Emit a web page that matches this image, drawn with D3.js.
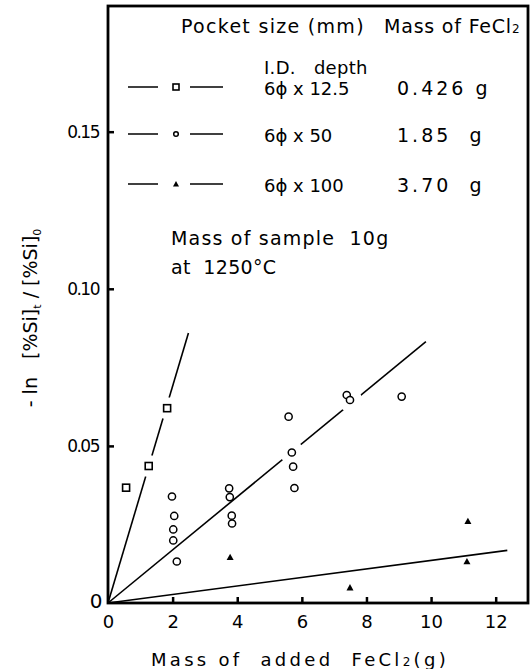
<!DOCTYPE html>
<html>
<head>
<meta charset="utf-8">
<script src="https://cdn.jsdelivr.net/npm/d3@7"></script>
<style>
  body { margin: 0; background: #fff; }
  text { font-family: "DejaVu Sans", sans-serif; fill: #000; }
</style>
</head>
<body>
<svg id="chart"></svg>
<script>
// values
var squareX = [0.56, 1.26, 1.83];
var squareY = [0.0367, 0.0436, 0.062];
var circleX = [1.98, 2.05, 2.02, 2.02, 2.13, 3.75, 3.77, 3.83, 3.84, 5.59, 5.69, 5.73, 5.77, 7.39, 7.49, 9.09];
var circleY = [0.0339, 0.0277, 0.0234, 0.0199, 0.0132, 0.0365, 0.0337, 0.0278, 0.0253, 0.0593, 0.0479, 0.0434, 0.0366, 0.0662, 0.0646, 0.0657];
var triX = [3.78, 7.49, 11.14, 11.11];
var triY = [0.0146, 0.0049, 0.026, 0.0132];

// straight lines through the origin: slope and last x
var fitSlope = [0.0345, 0.00845, 0.001355];
var fitEnd = [2.49, 9.84, 12.36];

var xTicks = [0, 2, 4, 6, 8, 10, 12];
var yTicks = [0, 0.05, 0.10, 0.15];
var yTickLabels = ["0", "0.05", "0.10", "0.15"];

var legendDims = ["6\u03d5 x 12.5", "6\u03d5 x 50", "6\u03d5 x 100"];
var legendMass = ["0.426 g", "1.85  g", "3.70  g"];
var legendShape = ["square", "circle", "triangle"];

var width = 530, height = 669;
var plotL = 108, plotR = 528, plotT = 6, plotB = 603;

var svg = d3.select('#chart').attr('width', width).attr('height', height);

var x = d3.scaleLinear().domain([0, 13]).range([plotL, plotR]);
var y = d3.scaleLinear().domain([0, 0.19]).range([plotB, plotT]);

// fitted lines
var fits = fitSlope.map((s, i) => ({slope: s, end: fitEnd[i]}));
svg.selectAll('.fit')
    .data(fits)
    .enter()
    .append('line')
    .attr('x1', x(0)).attr('y1', y(0))
    .attr('x2', d => x(d.end))
    .attr('y2', d => y(d.end * d.slope))
    .attr('stroke', '#000')
    .attr('stroke-width', 1.6);

// points: the drafted line breaks where a point sits on it
var points = [];
squareX.forEach((v, i) => points.push({x: v, y: squareY[i], shape: 'square', fit: 0}));
circleX.forEach((v, i) => points.push({x: v, y: circleY[i], shape: 'circle', fit: 1}));
triX.forEach((v, i) => points.push({x: v, y: triY[i], shape: 'triangle', fit: 2}));

var onLine = points.filter(p => Math.abs(y(p.y) - y(p.x * fitSlope[p.fit])) < 5);
svg.selectAll('.gap')
    .data(onLine)
    .enter()
    .append('circle')
    .attr('cx', d => x(d.x))
    .attr('cy', d => y(d.y))
    .attr('r', d => d.shape === 'square' ? 11 : 12)
    .attr('fill', '#fff');

function drawMarker(g, shape, cx, cy, small) {
    if (shape === 'square') {
        var s = small ? 6 : 7;
        g.append('rect')
            .attr('x', cx - s / 2).attr('y', cy - s / 2)
            .attr('width', s).attr('height', s)
            .attr('fill', '#fff').attr('stroke', '#000').attr('stroke-width', 1.6);
    } else if (shape === 'circle') {
        g.append('circle')
            .attr('cx', cx).attr('cy', cy).attr('r', small ? 2.3 : 3.6)
            .attr('fill', '#fff').attr('stroke', '#000').attr('stroke-width', 1.5);
    } else {
        var t = small ? 3 : 3.5;
        g.append('path')
            .attr('d', 'M' + cx + ',' + (cy - t) + 'L' + (cx + t) + ',' + (cy + t * 0.8) + 'L' + (cx - t) + ',' + (cy + t * 0.8) + 'Z')
            .attr('fill', '#000');
    }
}

var markers = svg.append('g');
points.forEach(p => drawMarker(markers, p.shape, x(p.x), y(p.y), false));

// axes with inward ticks
var xAxis = d3.axisBottom(x).tickValues(xTicks).tickSizeInner(-6).tickSizeOuter(0).tickPadding(13)
    .tickFormat(d3.format('d'));
var gx = svg.append('g').attr('transform', 'translate(0,' + plotB + ')').call(xAxis);
gx.select('.domain').remove();
gx.selectAll('.tick line').attr('stroke', '#000').attr('stroke-width', 2.5);
gx.selectAll('.tick text').attr('font-size', 18).attr('dy', '0.65em');

var yAxis = d3.axisLeft(y).tickValues(yTicks).tickSizeInner(-6).tickSizeOuter(0).tickPadding(9)
    .tickFormat((d, i) => yTickLabels[i]);
var gy = svg.append('g').attr('transform', 'translate(' + plotL + ',0)').call(yAxis);
gy.select('.domain').remove();
gy.selectAll('.tick line').attr('stroke', '#000').attr('stroke-width', 2.5);
gy.selectAll('.tick text').attr('font-size', 17).attr('letter-spacing', -1.5)
    .attr('font-family', '"DejaVu Sans Condensed", "DejaVu Sans", sans-serif');
gy.selectAll('.tick').filter(d => d === 0).select('text').attr('font-size', 20).attr('dx', 2).attr('dy', '0.2em');
gx.selectAll('.tick').filter(d => d === 0).select('line').remove();
gy.selectAll('.tick').filter(d => d === 0).select('line').remove();

// frame
svg.append('rect')
    .attr('x', plotL).attr('y', plotT)
    .attr('width', plotR - plotL).attr('height', plotB - plotT)
    .attr('fill', 'none').attr('stroke', '#000').attr('stroke-width', 2.8);

// legend
svg.append('text').attr('x', 181).attr('y', 33).attr('font-size', 19).attr('letter-spacing', 1.3)
    .style('white-space', 'pre').text('Pocket size (mm)');
var mt = svg.append('text').attr('x', 384).attr('y', 33).attr('font-size', 19).attr('letter-spacing', 0.8);
mt.append('tspan').text('Mass of FeCl');
mt.append('tspan').attr('font-size', 12).text('2');
svg.append('text').attr('x', 264).attr('y', 74).attr('font-size', 18).attr('letter-spacing', 0.3)
    .style('white-space', 'pre').text('I.D.   depth');

var rowY = [87, 134, 184];
legendShape.forEach((shape, i) => {
    var g = svg.append('g');
    g.append('line').attr('x1', 128).attr('x2', 158).attr('y1', rowY[i]).attr('y2', rowY[i])
        .attr('stroke', '#000').attr('stroke-width', 1.5);
    g.append('line').attr('x1', 190).attr('x2', 223).attr('y1', rowY[i]).attr('y2', rowY[i])
        .attr('stroke', '#000').attr('stroke-width', 1.5);
    drawMarker(g, shape, 176, rowY[i], true);
    g.append('text').attr('x', 264).attr('y', rowY[i] + 8).attr('font-size', 18).style('white-space', 'pre').text(legendDims[i]);
    g.append('text').attr('x', 397).attr('y', rowY[i] + 8).attr('font-size', 19).attr('letter-spacing', 3)
        .style('white-space', 'pre').text(legendMass[i]);
});

svg.append('text').attr('x', 171).attr('y', 245).attr('font-size', 19).attr('letter-spacing', 1.2)
    .style('white-space', 'pre').text('Mass of sample  10g');
svg.append('text').attr('x', 171).attr('y', 274).attr('font-size', 19).attr('letter-spacing', 0.3)
    .style('white-space', 'pre').text('at  1250\u00b0C');

// axis titles
var xt = svg.append('text').attr('x', 300).attr('y', 666).attr('text-anchor', 'middle')
    .attr('font-size', 18).attr('letter-spacing', 3.3).style('white-space', 'pre');
xt.append('tspan').text('Mass of  added  FeCl');
xt.append('tspan').attr('font-size', 12).text('2');
xt.append('tspan').text('(g)');

var yt = svg.append('text').attr('transform', 'translate(37,318) rotate(-90)')
    .attr('text-anchor', 'middle').attr('font-size', 19).style('white-space', 'pre');
yt.append('tspan').text('- ln   [%Si]');
yt.append('tspan').attr('font-size', 11).attr('dy', 4).text('t');
yt.append('tspan').attr('dy', -4).text(' / [%Si]');
yt.append('tspan').attr('font-size', 11).attr('dy', 4).text('0');
</script>
</body>
</html>
